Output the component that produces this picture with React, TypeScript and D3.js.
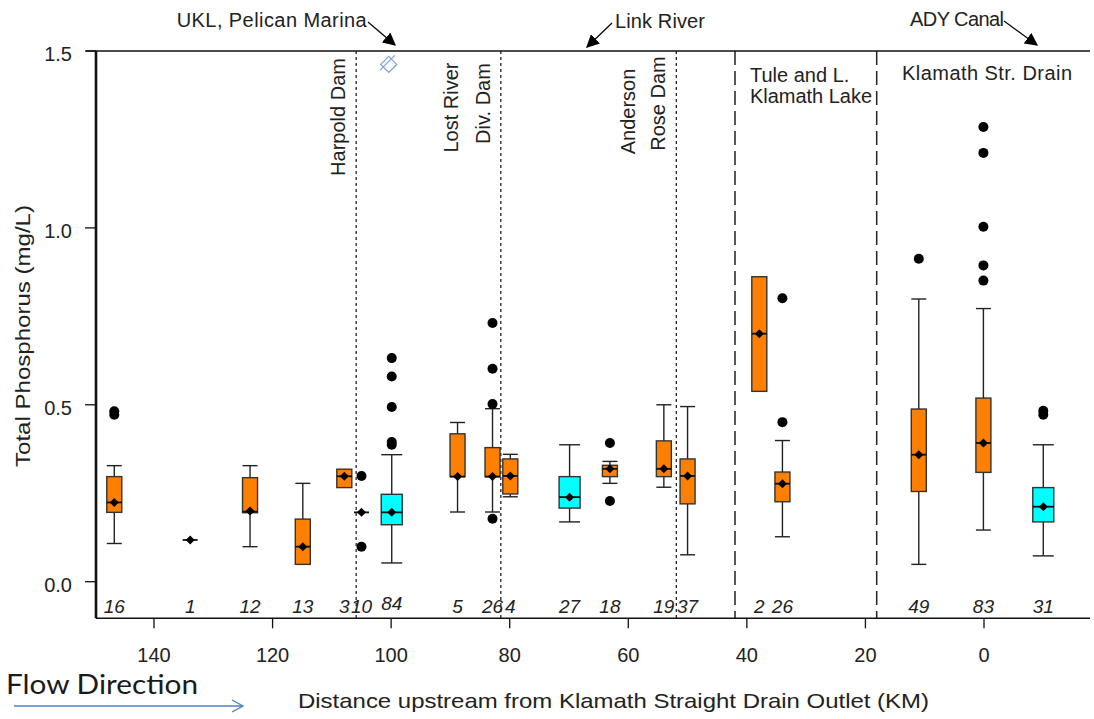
import React from 'react';
import * as d3 from 'd3';

// ---- data ----
const siteKm = [146.7, 133.9, 123.8, 114.9, 107.9, 105.0, 99.9, 88.8, 82.9, 79.9, 69.9, 63.1, 54.0, 50.0, 37.9, 34.0, 11.0, 0.1, -10.0];
const siteN = ['16', '1', '12', '13', '3', '10', '84', '5', '26', '4', '27', '18', '19', '37', '2', '26', '49', '83', '31'];
const siteGroup = ['o', 'o', 'o', 'o', 'o', 'o', 'c', 'o', 'o', 'o', 'c', 'o', 'o', 'o', 'o', 'o', 'o', 'o', 'c'];
const whiskerLow = [0.108, 0.118, 0.099, 0.049, 0.266, 0.196, 0.053, 0.197, 0.197, 0.240, 0.169, 0.278, 0.267, 0.076, 0.538, 0.127, 0.049, 0.146, 0.073];
const q1 = [0.196, 0.118, 0.195, 0.049, 0.266, 0.196, 0.161, 0.297, 0.297, 0.248, 0.208, 0.297, 0.297, 0.220, 0.538, 0.226, 0.255, 0.309, 0.169];
const median = [0.224, 0.118, 0.198, 0.099, 0.298, 0.196, 0.196, 0.297, 0.297, 0.299, 0.239, 0.319, 0.319, 0.299, 0.701, 0.277, 0.359, 0.392, 0.212];
const q3 = [0.297, 0.118, 0.294, 0.177, 0.318, 0.196, 0.247, 0.418, 0.379, 0.347, 0.297, 0.329, 0.398, 0.347, 0.862, 0.310, 0.488, 0.519, 0.266];
const whiskerHigh = [0.328, 0.118, 0.328, 0.278, 0.318, 0.196, 0.359, 0.450, 0.489, 0.360, 0.387, 0.340, 0.500, 0.495, 0.862, 0.399, 0.799, 0.772, 0.387];
const means = [0.224, 0.118, 0.200, 0.099, 0.298, 0.196, 0.196, 0.297, 0.297, 0.299, 0.239, 0.319, 0.319, 0.299, 0.701, 0.277, 0.359, 0.392, 0.212];
const outliers = [
  [0.472, 0.482], [], [], [], [], [0.299, 0.099], [0.387, 0.395, 0.494, 0.580, 0.632],
  [], [0.178, 0.502, 0.602, 0.731], [], [], [0.228, 0.392], [], [], [], [0.451, 0.801],
  [0.913], [0.851, 0.894, 1.003, 1.212, 1.285], [0.472, 0.483],
];
const offScaleKm = [100.4];
const offScaleVal = [1.462];
const dottedKm = [105.9, 81.5, 51.9];
const dashedKm = [42.0, 18.1];
const xTicks = [140, 120, 100, 80, 60, 40, 20, 0];
const yTicks = [0, 0.5, 1.0, 1.5];

const FONT = '"Liberation Sans", Arial, sans-serif';

export default function App() {
  const W = 1094, H = 719;
  const x = d3.scaleLinear().domain([140, 0]).range([154, 984]);
  const y = d3.scaleLinear().domain([0, 1.5]).range([581.7, 51]);
  const left = 96, right = 1090, top = y(1.5), bottom = y(-0.1036);
  const fmt = d3.format('.1f');
  const colors: Record<string, string> = { o: '#FF8000', c: '#00FFFF' };
  const widths: Record<string, number> = { o: 15, c: 21 };

  return (
    <svg width={W} height={H} style={{ position: 'absolute', left: 0, top: 0, background: '#fff' }} fontFamily={FONT}>
      <defs>
        <marker id="ah" viewBox="0 0 10 10" refX="9" refY="5" markerWidth="13" markerHeight="13" markerUnits="userSpaceOnUse" orient="auto">
          <path d="M0,0 L10,5 L0,10 z" fill="#000" />
        </marker>
      </defs>
      <rect width={W} height={H} fill="#fff" />

      {/* reference lines */}
      {dottedKm.map((k, i) => (
        <line key={'dt' + i} x1={x(k)} x2={x(k)} y1={top} y2={bottom} stroke="#222" strokeWidth={1.3} strokeDasharray="3,3" />
      ))}
      {dashedKm.map((k, i) => (
        <line key={'ds' + i} x1={x(k)} x2={x(k)} y1={top} y2={bottom} stroke="#222" strokeWidth={1.5} strokeDasharray="14,6" />
      ))}

      {/* frame */}
      <line x1={left - 10} x2={right} y1={top} y2={top} stroke="#111" strokeWidth={1.5} />
      <line x1={left} x2={right} y1={bottom} y2={bottom} stroke="#111" strokeWidth={1.5} />
      <line x1={left} x2={left} y1={top} y2={bottom} stroke="#111" strokeWidth={2.6} />

      {/* y axis */}
      {yTicks.map((t) => (
        <g key={'yt' + t}>
          <line x1={left - 11} x2={left} y1={y(t)} y2={y(t)} stroke="#111" strokeWidth={1.3} />
          <text x={72} y={y(t) + 10} textAnchor="end" fontSize={20} fill="#222">{fmt(t)}</text>
        </g>
      ))}
      {/* x axis */}
      {xTicks.map((t) => (
        <g key={'xt' + t}>
          <line x1={x(t)} x2={x(t)} y1={bottom} y2={bottom + 10} stroke="#111" strokeWidth={1.3} />
          <text x={x(t)} y={662} textAnchor="middle" fontSize={20} fill="#222">{t}</text>
        </g>
      ))}

      {/* boxes */}
      {siteKm.map((k, i) => {
        const cx = x(k);
        const w = widths[siteGroup[i]];
        const hw = w / 2;
        const els: any[] = [];
        if (whiskerHigh[i] > q3[i]) {
          els.push(<line key="wh" x1={cx} x2={cx} y1={y(q3[i])} y2={y(whiskerHigh[i])} stroke="#222" strokeWidth={1.4} />);
          els.push(<line key="ch" x1={cx - hw} x2={cx + hw} y1={y(whiskerHigh[i])} y2={y(whiskerHigh[i])} stroke="#222" strokeWidth={1.4} />);
        }
        if (whiskerLow[i] < q1[i]) {
          els.push(<line key="wl" x1={cx} x2={cx} y1={y(q1[i])} y2={y(whiskerLow[i])} stroke="#222" strokeWidth={1.4} />);
          els.push(<line key="cl" x1={cx - hw} x2={cx + hw} y1={y(whiskerLow[i])} y2={y(whiskerLow[i])} stroke="#222" strokeWidth={1.4} />);
        }
        if (q3[i] > q1[i]) {
          els.push(<rect key="bx" x={cx - hw} y={y(q3[i])} width={w} height={y(q1[i]) - y(q3[i])} fill={colors[siteGroup[i]]} stroke="#333" strokeWidth={1.4} />);
        }
        els.push(<line key="md" x1={cx - hw} x2={cx + hw} y1={y(median[i])} y2={y(median[i])} stroke="#111" strokeWidth={1.8} />);
        const my = y(means[i]);
        els.push(<path key="mn" d={`M${cx},${my - 4.5} L${cx + 4.5},${my} L${cx},${my + 4.5} L${cx - 4.5},${my} Z`} fill="#000" />);
        outliers[i].forEach((v, j) => {
          els.push(<circle key={'o' + j} cx={cx} cy={y(v)} r={5} fill="#000" />);
        });
        els.push(
          <text key="n" x={cx} y={siteN[i] === '84' ? 610 : 613} textAnchor="middle" fontSize={19} fontStyle="italic" fill="#222">{siteN[i]}</text>
        );
        return <g key={'s' + i}>{els}</g>;
      })}

      {/* off-scale symbol */}
      {offScaleKm.map((k, i) => {
        const cx = x(k), cy = y(offScaleVal[i]);
        return (
          <g key={'os' + i} stroke="#7d9ed4" strokeWidth={1.2} fill="none">
            <path d={`M${cx},${cy - 8} L${cx + 8},${cy} L${cx},${cy + 8} L${cx - 8},${cy} Z`} />
            <line x1={cx - 9} y1={cy + 6} x2={cx + 6} y2={cy - 9} />
          </g>
        );
      })}

      {/* top annotations */}
      <text x={176.7} y={27} fontSize={20} fill="#222" textLength={190}>UKL, Pelican Marina</text>
      <line x1={368} y1={22} x2={395} y2={45} stroke="#000" strokeWidth={1.2} markerEnd="url(#ah)" />
      <text x={615} y={28} fontSize={20} fill="#222" textLength={90}>Link River</text>
      <line x1={612} y1={23} x2={587} y2={47} stroke="#000" strokeWidth={1.2} markerEnd="url(#ah)" />
      <text x={910} y={26} fontSize={20} fill="#222" textLength={94}>ADY Canal</text>
      <line x1={1004} y1={21} x2={1037} y2={45} stroke="#000" strokeWidth={1.2} markerEnd="url(#ah)" />

      {/* vertical site labels */}
      <text transform="translate(345,117) rotate(-90)" textAnchor="middle" fontSize={20} fill="#222">Harpold Dam</text>
      <text transform="translate(458,107.5) rotate(-90)" textAnchor="middle" fontSize={20} fill="#222">Lost River</text>
      <text transform="translate(489.5,103.5) rotate(-90)" textAnchor="middle" fontSize={20} fill="#222">Div. Dam</text>
      <text transform="translate(635,111.5) rotate(-90)" textAnchor="middle" fontSize={20} fill="#222">Anderson</text>
      <text transform="translate(665,103.5) rotate(-90)" textAnchor="middle" fontSize={20} fill="#222">Rose Dam</text>

      <text x={750} y={82} fontSize={20} fill="#222">Tule and L.</text>
      <text x={750} y={103} fontSize={20} fill="#222" textLength={122}>Klamath Lake</text>
      <text x={902} y={80} fontSize={20} fill="#222" textLength={170}>Klamath Str. Drain</text>

      {/* axis titles */}
      <text transform="translate(30,467) rotate(-90)" fontSize={21} fill="#222" textLength={262} lengthAdjust="spacingAndGlyphs">Total Phosphorus (mg/L)</text>
      <text x={298} y={708} fontSize={21} fill="#222" textLength={631} lengthAdjust="spacingAndGlyphs">Distance upstream from Klamath Straight Drain Outlet (KM)</text>

      {/* flow direction */}
      <text x={6} y={693.5} fontSize={27} fill="#1a1a1a" fontFamily="Lato, 'Open Sans', sans-serif" textLength={192} lengthAdjust="spacingAndGlyphs">Flow Direction</text>
      <line x1={14} y1={706} x2={243} y2={706} stroke="#4f7fbf" strokeWidth={1.6} />
      <polyline points="232,700 243,706 232,712" fill="none" stroke="#4f7fbf" strokeWidth={1.4} />
    </svg>
  );
}
